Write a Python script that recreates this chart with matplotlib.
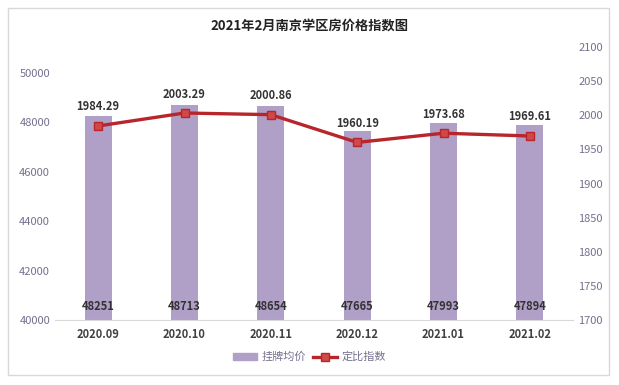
import matplotlib
matplotlib.use('Agg')
import matplotlib.pyplot as plt
import numpy as np
from matplotlib.patches import Rectangle

plt.rcParams['font.family'] = ['Noto Sans CJK SC', 'DejaVu Sans']

months = ['2020.09', '2020.10', '2020.11', '2020.12', '2021.01', '2021.02']
price = [48251, 48713, 48654, 47665, 47993, 47894]
index = [1984.29, 2003.29, 2000.86, 1960.19, 1973.68, 1969.61]

bar_color = '#b09fc6'
line_color = '#b8262b'
tick_color = '#76708f'

fig = plt.figure(figsize=(6.19, 3.85), dpi=100)
fig.patches.append(Rectangle((8/619, 10/385), 601/619, 367/385, transform=fig.transFigure,
                             fill=False, edgecolor='#d9d9d9', linewidth=1))

ax = fig.add_axes([55/619, 65/385, 518/619, 273/385])
x = np.arange(len(months))
ax.bar(x, price, width=0.31, color=bar_color, zorder=1)
ax.set_ylim(40000, 51050)
ax.set_yticks(range(40000, 50001, 2000))
ax.set_xlim(-0.5, len(months) - 0.5)
ax.set_xticks(x)
ax.set_xticklabels(months, fontsize=8, fontweight='bold', color='#404040')
for xi, v in zip(x, price):
    ax.text(xi, 40550, str(v), ha='center', va='center', fontsize=8,
            fontweight='bold', color='#333333', zorder=5)

ax2 = ax.twinx()
ax2.plot(x, index, color=line_color, linewidth=2.4, marker='s', markersize=5.5,
         markerfacecolor='#d04848', markeredgecolor=line_color, zorder=3)
ax2.set_ylim(1700, 2100)
ax2.set_yticks(range(1700, 2101, 50))
for xi, v in zip(x, index):
    ax2.annotate(f'{v:.2f}', (xi, v), xytext=(0, 9), textcoords='offset points',
                 ha='center', va='bottom', fontsize=8, fontweight='bold', color='#333333')

for a in (ax, ax2):
    for s in a.spines.values():
        s.set_visible(False)
    a.tick_params(length=0)
ax.spines['bottom'].set_visible(True)
ax.spines['bottom'].set_color('#d9d9d9')
ax.tick_params(axis='y', labelsize=8, labelcolor=tick_color, pad=3.5)
ax2.tick_params(axis='y', labelsize=8, labelcolor=tick_color, pad=4)
ax.tick_params(axis='x', pad=6)

fig.text(0.5, 358/385, '2021年2月南京学区房价格指数图', ha='center', va='center',
         fontsize=9.5, fontweight='bold', color='#222222')

h1 = plt.Rectangle((0, 0), 1, 1, color=bar_color)
h2, = ax2.plot([], [], color=line_color, linewidth=2.4, marker='s', markersize=5.5,
               markerfacecolor='#d04848', markeredgecolor=line_color)
fig.legend([h1, h2], ['挂牌均价', '定比指数'], loc='center', bbox_to_anchor=(0.5, 28/385),
           ncol=2, frameon=False, fontsize=8, labelcolor=tick_color,
           handlelength=2.2, handleheight=0.6, columnspacing=0.6, handletextpad=0.4)

fig.savefig('out.png', dpi=100, facecolor='white')
